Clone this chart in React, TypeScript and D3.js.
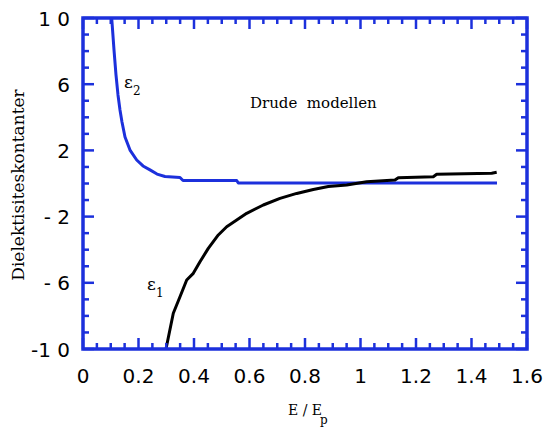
import React from 'react';
import * as d3 from 'd3';

const eps2X = [0.1034, 0.1117, 0.1189, 0.1261, 0.1333, 0.1405, 0.1514, 0.1694, 0.1935, 0.2162, 0.2414, 0.2667, 0.2955, 0.3495, 0.3604, 0.5539, 0.5596, 1.0, 1.4919];
const eps2Y = [10.0, 8.07, 6.56, 5.35, 4.44, 3.72, 2.81, 2.02, 1.42, 1.06, 0.82, 0.57, 0.42, 0.36, 0.18, 0.18, 0.03, 0.03, 0.03];

const eps1X = [0.299, 0.3254, 0.3495, 0.3737, 0.3975, 0.4216, 0.4515, 0.4876, 0.5178, 0.5539, 0.5899, 0.6497, 0.7099, 0.7701, 0.8299, 0.884, 0.9503, 1.0223, 1.1243, 1.1362, 1.2623, 1.2746, 1.4728, 1.4908];
const eps1Y = [-10.0, -7.84, -6.84, -5.83, -5.43, -4.73, -3.92, -3.11, -2.61, -2.21, -1.8, -1.3, -0.9, -0.6, -0.36, -0.18, -0.09, 0.11, 0.21, 0.35, 0.41, 0.56, 0.62, 0.68];

const xTickValues = [0, 0.2, 0.4, 0.6, 0.8, 1.0, 1.2, 1.4, 1.6];
const xTickLabels = ['0', '0.2', '0.4', '0.6', '0.8', '1', '1.2', '1.4', '1.6'];
const yTickValues = [10, 6, 2, -2, -6, -10];
const yTickLabels = ['1 0', '6', '2', '- 2', '- 6', '-1 0'];

const BLUE = '#1c30dc';

export default function App() {
  const W = 545, H = 432;
  const x = d3.scaleLinear().domain([0, 1.6]).range([83, 527]);
  const y = d3.scaleLinear().domain([-10, 10]).range([349, 18]);

  const line = d3.line<[number, number]>().x(d => x(d[0])).y(d => y(d[1]));
  const eps2 = eps2X.map((v, i) => [v, eps2Y[i]] as [number, number]);
  const eps1 = eps1X.map((v, i) => [v, eps1Y[i]] as [number, number]);

  const xMinor = d3.range(0, 32.5).map(i => i * 0.05);
  const yMinor = d3.range(-10, 10.5, 1);

  const isMajorX = (v: number) => Math.abs(v / 0.2 - Math.round(v / 0.2)) < 1e-6;
  const isMajorY = (v: number) => Math.abs((v + 10) % 4) < 1e-6;

  const tickFont = '"DejaVu Sans", sans-serif';
  const serif = '"DejaVu Serif", "Liberation Serif", serif';

  return (
    <svg width={W} height={H} style={{ position: 'absolute', left: 0, top: 0, background: '#fff' }}>
      <defs>
        <clipPath id="plot">
          <rect x={83} y={18} width={444} height={331} />
        </clipPath>
      </defs>
      <g clipPath="url(#plot)">
        <path d={line(eps2) || ''} fill="none" stroke={BLUE} strokeWidth={3} strokeLinejoin="round" />
        <path d={line(eps1) || ''} fill="none" stroke="#000" strokeWidth={3} strokeLinejoin="round" />
      </g>
      <g stroke={BLUE} strokeWidth={2.5}>
        {xMinor.map((v, i) => {
          const len = isMajorX(v) ? 11 : 6;
          return (
            <g key={'xt' + i}>
              <line x1={x(v)} x2={x(v)} y1={349} y2={349 - len} />
              <line x1={x(v)} x2={x(v)} y1={18} y2={18 + len} />
            </g>
          );
        })}
        {yMinor.map((v, i) => {
          const len = isMajorY(v) ? 11 : 6;
          return (
            <g key={'yt' + i}>
              <line x1={83} x2={83 + len} y1={y(v)} y2={y(v)} />
              <line x1={527} x2={527 - len} y1={y(v)} y2={y(v)} />
            </g>
          );
        })}
      </g>
      <rect x={83} y={18} width={444} height={331} fill="none" stroke={BLUE} strokeWidth={3.5} />
      <g fontFamily={tickFont} fontSize={20} fill="#000">
        {xTickValues.map((v, i) => (
          <text key={'xl' + i} x={x(v)} y={383} textAnchor="middle">{xTickLabels[i]}</text>
        ))}
        {yTickValues.map((v, i) => (
          <text key={'yl' + i} x={70} y={y(v) + 7.5} textAnchor="end" style={{ whiteSpace: 'pre' }}>{yTickLabels[i]}</text>
        ))}
      </g>
      <text x={0} y={0} transform="translate(24,185) rotate(-90)" textAnchor="middle" fontFamily={serif} fontSize={17} fill="#000">Dielektisiteskontanter</text>
      <text x={288} y={415} fontFamily={serif} fontSize={14} fill="#000" style={{ whiteSpace: 'pre' }}>E / E</text>
      <text x={320} y={424} fontFamily={serif} fontSize={12} fill="#000">p</text>
      <text x={250} y={108} fontFamily={serif} fontSize={15} fill="#000" style={{ whiteSpace: 'pre' }}>Drude  modellen</text>
      <text x={124} y={88} fontFamily={serif} fontSize={17} fill="#000">ε</text>
      <text x={133} y={95} fontFamily={serif} fontSize={12} fill="#000">2</text>
      <text x={147} y={290} fontFamily={serif} fontSize={17} fill="#000">ε</text>
      <text x={156} y={297} fontFamily={serif} fontSize={12} fill="#000">1</text>
    </svg>
  );
}
